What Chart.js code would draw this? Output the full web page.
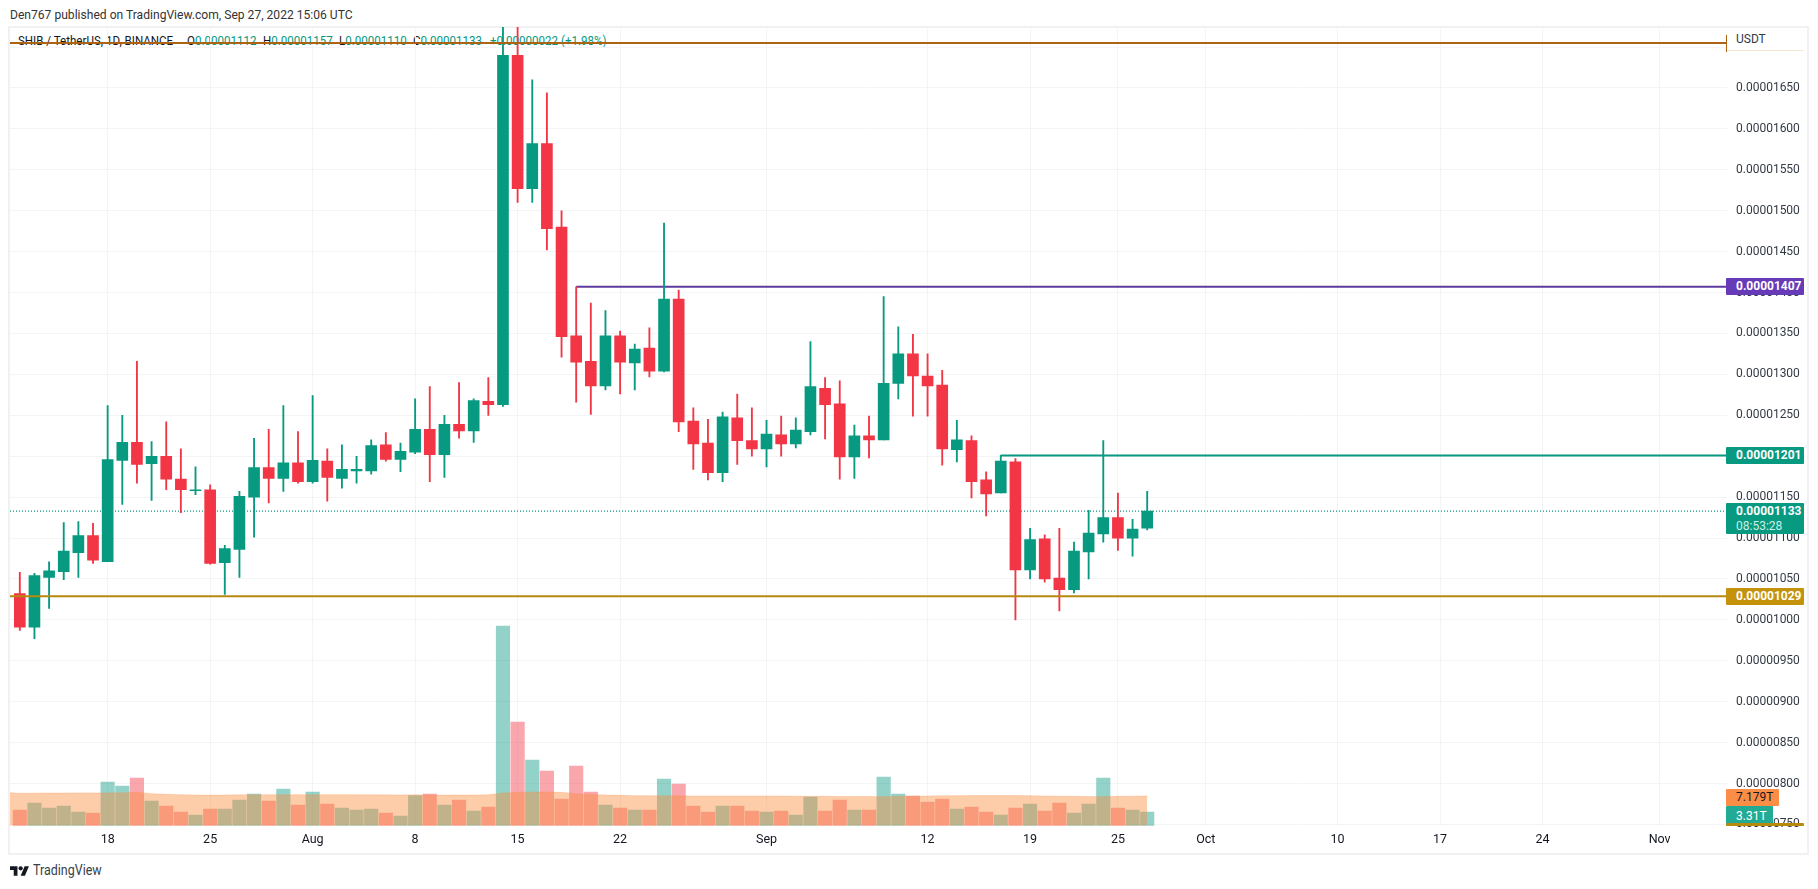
<!DOCTYPE html>
<html><head><meta charset="utf-8">
<script src="https://cdn.jsdelivr.net/npm/chart.js@4"></script>
<style>
html,body{margin:0;padding:0;background:#fff;width:1818px;height:889px;overflow:hidden;font-family:Roboto,sans-serif;}
.t{position:absolute;white-space:pre;line-height:1;transform-origin:left center;}
#frame{position:absolute;left:8px;top:26px;width:1797px;height:825px;border:2px solid #f0f1f3;}
canvas{position:absolute;left:0;top:0;z-index:2;}
.tag{position:absolute;z-index:3;left:1726px;color:#fff;font:bold 12px Roboto,sans-serif;padding-left:10px;box-sizing:border-box;border-radius:1px;}
.lg{top:35px;font-size:12.5px;color:#131722;transform:scaleX(.925);}
</style></head><body>
<div class="t" style="left:10px;top:8px;font-size:13px;color:#333;transform:scaleX(.93);">Den767 published on TradingView.com, Sep 27, 2022 15:06 UTC</div>
<div id="frame"></div>
<div class="t lg" style="left:18px;">SHIB / TetherUS, 1D, BINANCE</div>
<div class="t lg" style="left:187px;">O<span style="color:#089981">0.00001112</span></div>
<div class="t lg" style="left:263px;">H<span style="color:#089981">0.00001157</span></div>
<div class="t lg" style="left:339px;">L<span style="color:#089981">0.00001110</span></div>
<div class="t lg" style="left:413px;">C<span style="color:#089981">0.00001133</span></div>
<div class="t lg" style="left:490px;color:#089981;">+0.00000022 (+1.98%)</div>
<svg style="position:absolute;left:10px;top:864px" width="19.2" height="15" viewBox="0 0 36 28"><path fill="#131722" d="M14 22H7V11H0V4h14v18zM28 22h-8l7.5-18h8L28 22z"/><circle fill="#131722" cx="20" cy="8" r="4"/></svg>
<div class="t" style="left:33px;top:864px;font-size:14.5px;color:#3a3f4a;transform:scaleX(.86);">TradingView</div>
<canvas id="c" width="1818" height="889" style="width:1818px;height:889px"></canvas>
<script>
// Candle dates run from 12 Jul 2022 to 27 Sep 2022; x values are days after 18 Jul.
const firstDay = -6;
const priceOpen = [1032,991,1052,1059,1082,1103,1071,1195,1217,1191,1200,1172,1158,1159,1070,1086,1150,1186,1173,1192,
 1169,1194,1173,1182,1182,1214,1196,1205,1233,1202,1239,1231,1267,1263,1690,1527,1582,1480,1347,1316,1286,1347,1314,1332,1304,1392,1243,1216,1180,1247,1219,
 1209,1226,1215,1230,1283,1264,1199,1225,1220,1289,1325,1298,1287,1208,1219,1171,1155,1193,1061,1099,1051,1037,1083,1105,1125,1100,1112];
const priceHigh = [1058,1057,1071,1119,1120,1118,1262,1250,1316,1218,1242,1209,1187,1165,1091,1157,1222,1233,1262,1230,
 1274,1209,1214,1200,1220,1229,1216,1270,1285,1250,1290,1270,1296,1724,1724,1660,1644,1500,1407,1387,1378,1353,1337,1357,1485,1403,1259,1245,1254,1276,1259,
 1244,1249,1247,1340,1296,1292,1238,1249,1395,1358,1349,1325,1305,1244,1225,1181,1201,1197,1112,1104,1112,1095,1134,1219,1155,1123,1157];
const priceLow = [987,977,1014,1049,1052,1069,1071,1141,1167,1146,1159,1131,1153,1068,1031,1052,1101,1143,1157,1167,
 1167,1145,1161,1167,1178,1194,1181,1203,1169,1174,1222,1217,1250,1261,1510,1510,1452,1321,1266,1251,1281,1276,1281,1297,1303,1230,1184,1171,1169,1190,1200,
 1187,1200,1210,1226,1221,1172,1173,1198,1220,1270,1249,1249,1189,1193,1149,1127,1155,1000,1050,1046,1011,1033,1050,1095,1085,1078,1110];
const priceClose = [991,1054,1060,1084,1103,1073,1196,1217,1190,1200,1172,1159,1159,1069,1087,1151,1186,1173,1192,1169,
 1195,1174,1184,1184,1213,1196,1206,1233,1202,1239,1231,1268,1263,1690,1527,1582,1478,1346,1315,1286,1347,1315,1331,1304,1392,1242,1215,1180,1248,1219,1209,
 1227,1215,1232,1285,1263,1199,1225,1220,1289,1325,1298,1286,1209,1220,1169,1154,1194,1061,1098,1050,1037,1084,1106,1125,1100,1111,1133];
const volumeT = [3.79,5.48,4.27,4.75,3.30,3.06,10.55,9.59,11.52,5.96,4.75,3.30,2.58,4.03,4.03,6.20,7.65,5.96,8.86,5.00,
 8.14,5.24,4.27,3.79,4.03,3.06,2.34,7.25,7.65,5.00,6.20,3.55,4.51,48.26,25.06,15.87,13.21,6.45,14.42,8.14,5.00,4.27,
 3.79,3.79,11.28,10.07,4.75,3.30,4.75,4.75,3.55,3.30,3.55,2.58,6.93,3.55,6.20,3.79,3.79,11.76,7.65,7.17,5.72,6.45,4.03,4.51,3.30,2.58,4.27,5.24,3.55,5.48,3.06,5.24,11.52,4.27,3.79,3.31];
const volumeMA = [7.85,7.85,7.89,7.89,7.93,7.93,7.93,7.97,8.06,7.73,7.57,7.49,7.41,7.41,7.41,7.45,7.45,7.49,7.49,7.49,
 7.49,7.49,7.49,7.49,7.45,7.45,7.41,7.45,7.41,7.41,7.41,7.41,7.45,7.90,8.06,8.14,8.14,8.06,7.73,7.57,7.41,7.33,
 7.25,7.25,7.21,7.21,7.17,7.17,7.17,7.17,7.17,7.17,7.17,7.13,7.09,7.09,7.05,7.05,7.05,7.01,7.09,7.13,7.17,7.25,7.25,7.29,7.29,7.29,7.29,7.25,7.17,7.13,7.09,7.05,7.01,7.09,7.13,7.179];
const volumeMAEdge = 7.98;
const tickDays = [0,7,14,21,28,35,45,56,63,69,75,84,91,98,106];
const tickLabels = ['18','25','Aug','8','15','22','Sep','12','19','25','Oct','10','17','24','Nov'];
const priceTicks = [750,800,850,900,950,1000,1050,1100,1150,1200,1250,1300,1350,1400,1450,1500,1550,1600,1650,1700];
const levelTop = 1705, levelPurple = 1407, levelGreen = 1201, levelGold = 1029, lastClose = 1133;
const levelPurpleDay = 32, levelGreenDay = 61;
const axisDayMin = -6.67, axisDayMax = 110.6, axisPriceMin = 748.5, axisPriceMax = 1724.5, axisVolumeMax = 193;

const E = 1e-8, GREEN = '#089981', RED = '#f23645', GRID = '#f3f4f6';
const days = priceOpen.map((_, i) => firstDay + i);
const up = priceOpen.map((o, i) => priceClose[i] >= o);
const hline = (from, v) => [{x: from, y: v * E}, {x: axisDayMax, y: v * E}];
const level = (data, color, order, extra) => Object.assign({type:'line', data, yAxisID:'y', borderColor:color, borderWidth:2, pointRadius:0, fill:false, tension:0, order}, extra||{});

const chart = new Chart(document.getElementById('c'), {
  type: 'bar',
  data: { datasets: [
    {label:'Volume', yAxisID:'v', data: days.map((d,i)=>({x:d,y:volumeT[i]})), grouped:false, barThickness:13.5,
     backgroundColor: up.map(u=>u?'rgba(8,153,129,.44)':'rgba(242,54,69,.44)'), order:20},
    {type:'line', label:'Volume MA', yAxisID:'v', data: [{x:axisDayMin,y:volumeMAEdge}].concat(days.map((d,i)=>({x:d,y:volumeMA[i]}))),
     borderColor:'rgba(250,141,62,.25)', borderWidth:1, backgroundColor:'rgba(250,141,62,.44)', pointRadius:0, tension:0, fill:'origin', order:19},
    level(hline(axisDayMin,lastClose), GREEN, 18, {borderWidth:1.3, borderDash:[1,2]}),
    level(hline(levelPurpleDay,levelPurple), '#5e3a9e', 17),
    level(hline(levelGreenDay,levelGreen), GREEN, 17),
    {label:'Wicks', yAxisID:'y', data: days.map((d,i)=>({x:d,y:[priceLow[i]*E,priceHigh[i]*E]})), grouped:false, barThickness:1.2,
     backgroundColor: up.map(u=>u?GREEN:RED), order:6},
    {label:'Bodies', yAxisID:'y', data: days.map((d,i)=>{const lo=Math.min(priceOpen[i],priceClose[i]),hi=Math.max(priceOpen[i],priceClose[i]);return {x:d,y:[lo*E,(hi===lo?hi+1:hi)*E]};}), grouped:false, barThickness:11,
     backgroundColor: up.map(u=>u?GREEN:RED), order:5},
    level(hline(axisDayMin,levelGold), '#b8890f', 2),
    level(hline(axisDayMin,levelTop), '#ac6414', 1),
  ]},
  options: {
    responsive:false, animation:false, events:[],
    layout:{padding:{left:10,top:27,right:11,bottom:36}},
    plugins:{legend:{display:false},tooltip:{enabled:false},title:{display:false}},
    scales:{
      x:{type:'linear', position:'bottom', min:axisDayMin, max:axisDayMax, offset:false,
         afterBuildTicks:a=>{a.ticks=tickDays.map(value=>({value}));},
         afterFit:a=>{a.height=27.3;},
         grid:{color:GRID,offset:false,drawTicks:false}, border:{display:false},
         ticks:{autoSkip:false,maxRotation:0,padding:7,color:'#131722',font:{family:'Roboto',size:12.5},callback:(v,i)=>tickLabels[i]}},
      y:{type:'linear', position:'right', min:axisPriceMin*E, max:axisPriceMax*E,
         afterBuildTicks:a=>{a.ticks=priceTicks.map(p=>({value:p*E}));},
         afterFit:a=>{a.width=80;},
         grid:{color:GRID,drawTicks:false}, border:{display:false},
         ticks:{autoSkip:false,crossAlign:'near',padding:9,color:'#333a45',font:{family:'Roboto',size:12},callback:v=>v>=1690*E?'':v.toFixed(8)}},
      v:{type:'linear', display:false, position:'left', min:0, max:axisVolumeMax, grid:{display:false}}
    }
  }
});

// Price and volume tags on the right-hand scale, placed through the library's scales.
const yS = chart.scales.y, vS = chart.scales.v;
function tag(html, top, h, w, bg, color){
  const d=document.createElement('div'); d.className='tag'; d.innerHTML=html;
  d.style.cssText+=`top:${top}px;height:${h}px;width:${w}px;background:${bg};color:${color||'#fff'};line-height:${h}px;`;
  document.body.appendChild(d); return d;
}
const py = p => yS.getPixelForValue(p*E);
tag('USDT', 28, 23, 78, '#fff', '#333a45').style.cssText+='font-weight:normal;border-bottom:1px solid #f5e4cf;';
tag('0.00001407', py(levelPurple)-8.5, 17, 78, '#673ab7');
tag('0.00001201', py(levelGreen)-8.5, 17, 78, GREEN);
tag('0.00001029', py(levelGold)-8.5, 17, 78, '#c4930b');
const cur = tag('0.00001133<br><span style="font-weight:normal;color:#c8f0e6">08:53:28</span>', py(lastClose)-8.5, 31, 78, GREEN);
cur.style.lineHeight='15px'; cur.style.paddingTop='1px';
tag('7.179T', vS.getPixelForValue(volumeMA[77])-7, 17, 53, '#fb8d47', '#131722').style.fontWeight='normal';
tag('3.31T', vS.getPixelForValue(volumeT[77])-6, 20, 47, '#22ab94').style.fontWeight='normal';
tag('', py(750)-1, 3, 78, '#b8890f');
const tk=document.createElement('div'); tk.style.cssText=`position:absolute;z-index:3;left:1726px;top:35px;width:1px;height:17px;background:#ac6414`; document.body.appendChild(tk);
</script>
</body></html>
